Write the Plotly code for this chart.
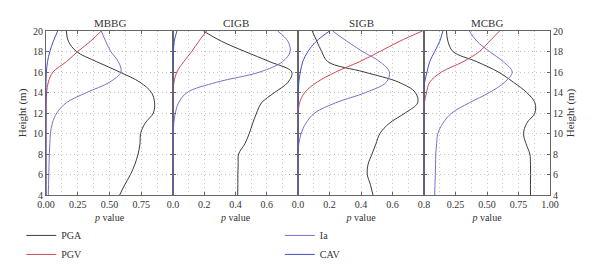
import plotly.graph_objects as go

heights = [4, 5, 6, 7, 8, 9, 10, 11, 12, 13, 14, 15, 16, 17, 18, 19, 20]
panels = ["MBBG", "CIGB", "SIGB", "MCBG"]
series_names = ["PGA", "PGV", "Ia", "CAV"]

# MBBG
mbbg_pga = [0.58, 0.62, 0.665, 0.70, 0.725, 0.74, 0.745, 0.78, 0.845, 0.855, 0.83, 0.74, 0.58, 0.40, 0.24, 0.176, 0.16]
mbbg_pgv = [0, 0, 0, 0, 0, 0, 0, 0, 0, 0.001, 0.005, 0.018, 0.055, 0.16, 0.25, 0.35, 0.435]
mbbg_ia = [0.018, 0.02, 0.022, 0.024, 0.026, 0.03, 0.035, 0.05, 0.085, 0.16, 0.32, 0.50, 0.59, 0.57, 0.51, 0.47, 0.435]
mbbg_cav = [0, 0, 0, 0, 0, 0, 0, 0, 0, 0, 0, 0, 0.003, 0.012, 0.03, 0.058, 0.092]

# CIGB
cigb_pga = [0.414, 0.415, 0.415, 0.417, 0.42, 0.46, 0.488, 0.51, 0.535, 0.567, 0.65, 0.736, 0.76, 0.62, 0.46, 0.31, 0.195]
cigb_pgv = [0, 0, 0, 0, 0, 0, 0, 0, 0, 0, 0.001, 0.006, 0.025, 0.068, 0.12, 0.165, 0.215]
cigb_ia = [0, 0, 0, 0, 0, 0, 0.002, 0.005, 0.015, 0.036, 0.09, 0.28, 0.556, 0.70, 0.75, 0.735, 0.67]
cigb_cav = [0, 0, 0, 0, 0, 0, 0, 0, 0, 0, 0, 0, 0, 0.001, 0.003, 0.008, 0.025]

# SIGB
sigb_pga = [0.476, 0.46, 0.44, 0.445, 0.47, 0.495, 0.52, 0.58, 0.68, 0.76, 0.745, 0.64, 0.42, 0.19, 0.15, 0.12, 0.09]
sigb_pgv = [0, 0, 0, 0, 0, 0, 0, 0, 0.002, 0.01, 0.043, 0.12, 0.24, 0.39, 0.52, 0.645, 0.79]
sigb_ia = [0, 0, 0, 0, 0, 0.005, 0.02, 0.05, 0.106, 0.24, 0.43, 0.56, 0.58, 0.52, 0.41, 0.31, 0.22]
sigb_cav = [0, 0, 0, 0, 0, 0, 0, 0, 0, 0, 0.002, 0.005, 0.015, 0.03, 0.063, 0.117, 0.2]

# MCBG
mcbg_pga = [0.845, 0.845, 0.846, 0.845, 0.84, 0.81, 0.79, 0.815, 0.88, 0.88, 0.815, 0.71, 0.59, 0.42, 0.23, 0.19, 0.178]
mcbg_pgv = [0, 0, 0, 0, 0, 0, 0, 0, 0, 0.003, 0.02, 0.045, 0.14, 0.31, 0.44, 0.52, 0.60]
mcbg_ia = [0.085, 0.087, 0.09, 0.092, 0.093, 0.10, 0.11, 0.15, 0.22, 0.36, 0.52, 0.64, 0.70, 0.63, 0.52, 0.42, 0.36]
mcbg_cav = [0, 0, 0, 0, 0, 0, 0, 0, 0, 0, 0, 0.005, 0.024, 0.045, 0.085, 0.125, 0.15]

panel_data = [
    [mbbg_pga, mbbg_pgv, mbbg_ia, mbbg_cav],
    [cigb_pga, cigb_pgv, cigb_ia, cigb_cav],
    [sigb_pga, sigb_pgv, sigb_ia, sigb_cav],
    [mcbg_pga, mcbg_pgv, mcbg_ia, mcbg_cav],
]

x_ranges = [[0, 1.0], [0, 0.8], [0, 0.8], [0, 1.0]]
x_tickvals = [[0, 0.25, 0.5, 0.75], [0, 0.2, 0.4, 0.6], [0, 0.2, 0.4, 0.6, 0.8], [0.25, 0.5, 0.75, 1.0]]
x_ticktext = [["0.00", "0.25", "0.50", "0.75"], ["0.0", "0.2", "0.4", "0.6"],
              ["0.0", "0.2", "0.4", "0.6", "0.8"], ["0.25", "0.50", "0.75", "1.00"]]
x_minor = [0.125, 0.1, 0.1, 0.125]
y_ticks = [4, 6, 8, 10, 12, 14, 16, 18, 20]

colors = {"PGA": "#3c3c3c", "PGV": "#cc4a55", "Ia": "#7a70cc", "CAV": "#3f52c8"}
legend_of = {"PGA": "legend", "PGV": "legend", "Ia": "legend2", "CAV": "legend2"}

domains = [[0, 0.252], [0.252, 0.5], [0.5, 0.75], [0.75, 1.0]]
font = "Liberation Serif, Times New Roman, serif"
axis_col = "#666666"
grid_col = "#c4c4c4"
grid_dash = "1px,3px"

fig = go.Figure()
for p in range(4):
    xa = "x" if p == 0 else f"x{p+1}"
    ya = "y" if p == 0 else f"y{p+1}"
    for s, name in enumerate(series_names):
        fig.add_trace(go.Scatter(
            x=panel_data[p][s], y=heights, xaxis=xa, yaxis=ya, mode="lines",
            line=dict(color=colors[name], width=1, shape="spline", smoothing=1.0),
            name=name, showlegend=(p == 0), legend=legend_of[name],
            hoverinfo="skip"))

layout = dict(
    width=600, height=274,
    margin=dict(l=38, r=58, t=23, b=87, autoexpand=False),
    paper_bgcolor="white", plot_bgcolor="white",
    font=dict(family=font, size=10, color="#333333"),
    legend=dict(x=-0.049, y=-0.158, xanchor="left", yanchor="top", orientation="v",
                font=dict(size=10), tracegroupgap=0, itemwidth=30, bgcolor="rgba(0,0,0,0)"),
    legend2=dict(x=0.464, y=-0.158, xanchor="left", yanchor="top", orientation="v",
                 font=dict(size=10), tracegroupgap=0, itemwidth=30, bgcolor="rgba(0,0,0,0)"),
)
for p in range(4):
    xkey = "xaxis" if p == 0 else f"xaxis{p+1}"
    ykey = "yaxis" if p == 0 else f"yaxis{p+1}"
    ya = "y" if p == 0 else f"y{p+1}"
    xa = "x" if p == 0 else f"x{p+1}"
    layout[xkey] = dict(
        domain=domains[p], anchor=ya, range=x_ranges[p], automargin=False,
        tickmode="array", tickvals=x_tickvals[p], ticktext=x_ticktext[p],
        showline=True, linecolor=axis_col, linewidth=1, mirror="ticks",
        ticks="inside", ticklen=3, tickcolor=axis_col,
        showgrid=True, gridcolor=grid_col, griddash=grid_dash, gridwidth=1,
        minor=dict(dtick=x_minor[p], tick0=0, showgrid=True, gridcolor=grid_col,
                   griddash=grid_dash, gridwidth=1, ticks=""),
        zeroline=False,
        title=dict(text="<i>p</i> value", standoff=4, font=dict(size=10)),
        tickfont=dict(size=10),
    )
    ydict = dict(
        anchor=xa, range=[4, 20], tickmode="array", tickvals=y_ticks, automargin=False,
        showline=True, linecolor=axis_col, linewidth=1, mirror="ticks",
        ticks="inside", ticklen=3, tickcolor=axis_col,
        showgrid=True, gridcolor=grid_col, griddash=grid_dash, gridwidth=1,
        zeroline=False, tickfont=dict(size=10),
    )
    if p == 0:
        ydict.update(showticklabels=True, title=dict(text="Height (m)", standoff=4, font=dict(size=11)))
    elif p == 3:
        ydict.update(side="right", showticklabels=True,
                     title=dict(text="Height (m)", standoff=4, font=dict(size=11)))
    else:
        ydict.update(showticklabels=False)
    layout[ykey] = ydict

fig.update_layout(**layout)

for p, name in enumerate(panels):
    fig.add_annotation(text=name, xref="paper", yref="paper",
                       x=(domains[p][0] + domains[p][1]) / 2, y=1.0,
                       xanchor="center", yanchor="bottom", showarrow=False,
                       font=dict(size=11, family=font, color="#333333"), yshift=0)

fig.write_html("out.html")
